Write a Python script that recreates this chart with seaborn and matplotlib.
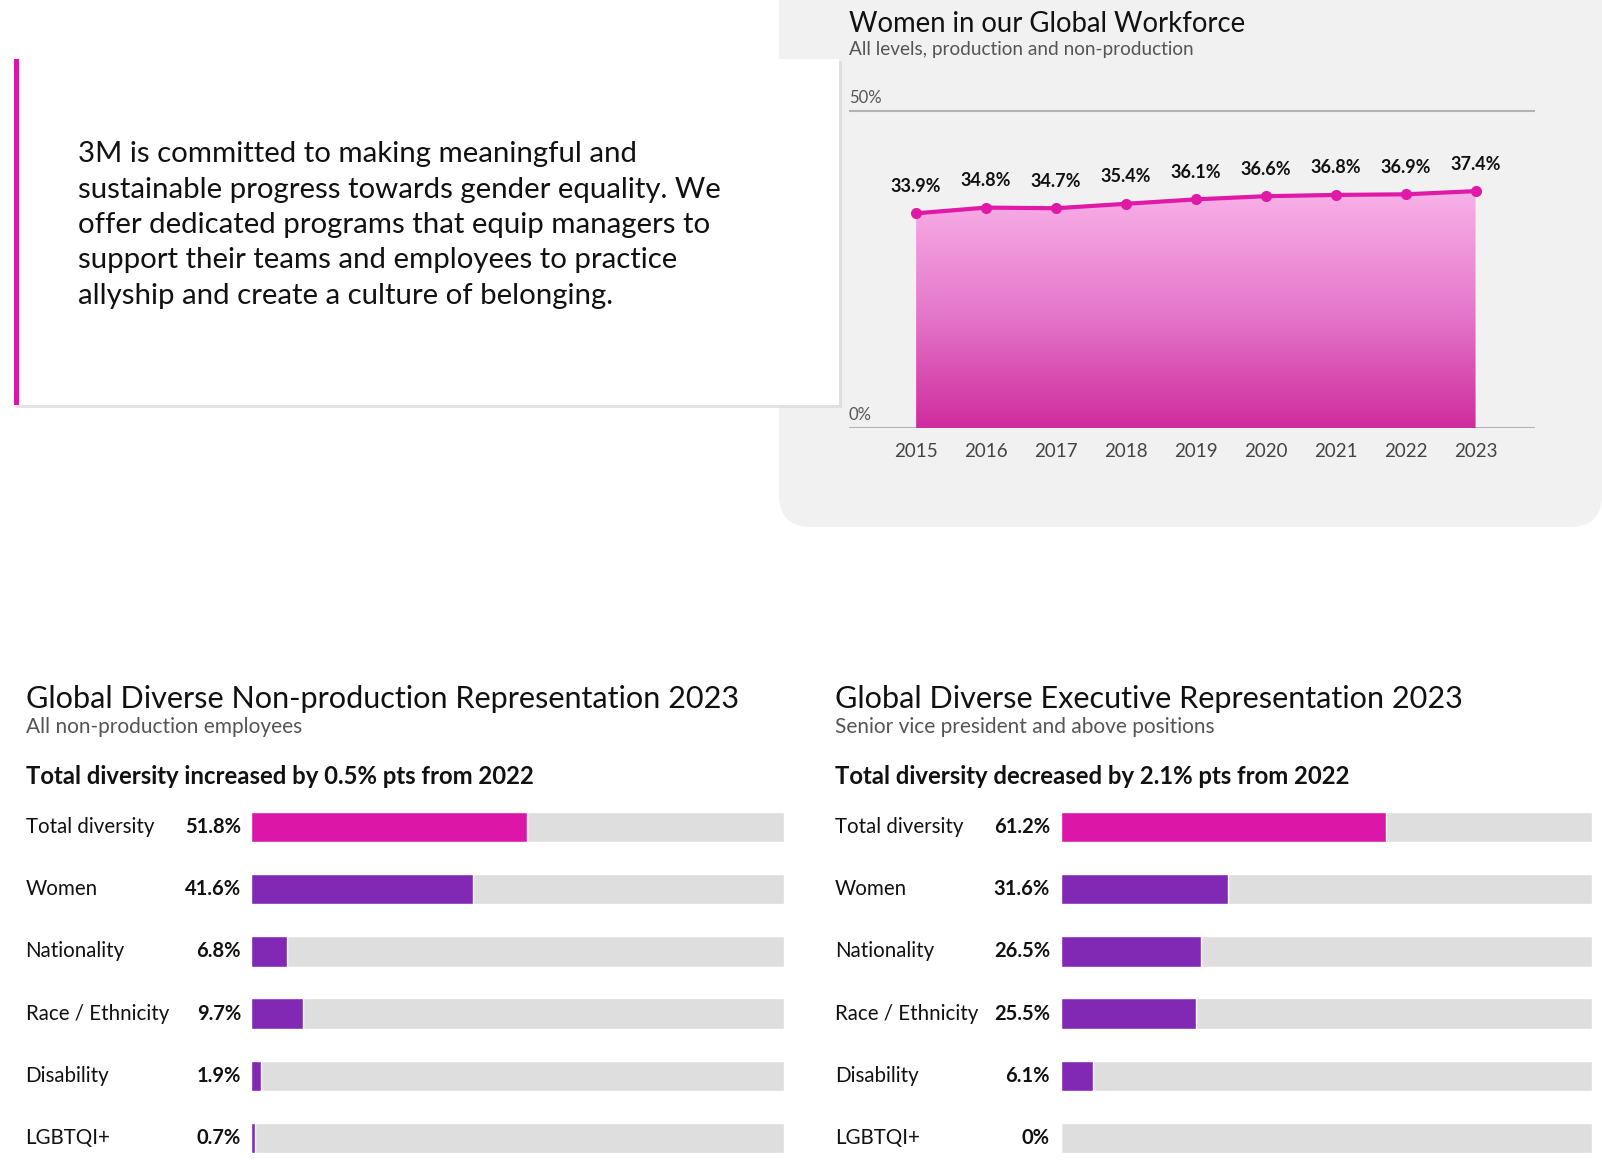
import numpy as np
import pandas as pd
import matplotlib
matplotlib.use("Agg")
import matplotlib.pyplot as plt
import matplotlib.transforms as mtransforms
import seaborn as sns
from matplotlib.patches import Rectangle, FancyBboxPatch
from matplotlib.colors import LinearSegmentedColormap

# data
years = [2015, 2016, 2017, 2018, 2019, 2020, 2021, 2022, 2023]
women_share = [33.9, 34.8, 34.7, 35.4, 36.1, 36.6, 36.8, 36.9, 37.4]

categories = ["Total diversity", "Women", "Nationality", "Race / Ethnicity", "Disability", "LGBTQI+"]
nonprod_values = [51.8, 41.6, 6.8, 9.7, 1.9, 0.7]
exec_values = [61.2, 31.6, 26.5, 25.5, 6.1, 0.0]

intro_text = ("3M is committed to making meaningful and\n"
              "sustainable progress towards gender equality. We\n"
              "offer dedicated programs that equip managers to\n"
              "support their teams and employees to practice\n"
              "allyship and create a culture of belonging.")

MAGENTA = "#dc17a8"
PURPLE = "#8129b4"
TRACK = "#dedede"

W, H = 1602, 1174
sns.set_theme(style="white")
plt.rcParams["font.family"] = ["Lato", "DejaVu Sans"]

fig = plt.figure(figsize=(W / 100, H / 100), dpi=100)
fig.patch.set_facecolor("white")


def box(x0, y0, x1, y1):
    # pixel box (top-left origin) -> figure fraction rect
    return [x0 / W, 1 - y1 / H, (x1 - x0) / W, (y1 - y0) / H]


# background layer in pixel coords
bg = fig.add_axes([0, 0, 1, 1], zorder=0)
bg.set_xlim(0, W)
bg.set_ylim(H, 0)
bg.axis("off")

# grey panel behind the line chart (rounded bottom corners)
bg.add_patch(FancyBboxPatch((779 + 32, -68), W - 779 - 64, 527 - 32 + 68,
                            boxstyle="round,pad=32", fc="#f1f1f1", ec="none"))

# text card with shadow and magenta rule
bg.add_patch(Rectangle((16, 61), 826, 347, fc="#d9d9d9", ec="none", alpha=0.7))
bg.add_patch(Rectangle((14, 59), 825, 346, fc="white", ec="none"))
bg.add_patch(Rectangle((14, 59), 4.5, 346, fc=MAGENTA, ec="none"))
bg.text(78, 225, intro_text, fontsize=21.2, va="center", ha="left",
        color="#111111", linespacing=1.45)

# line chart titles
bg.text(849, 24, "Women in our Global Workforce", fontsize=19.8,
        va="center", color="#111111")
bg.text(849, 50, "All levels, production and non-production", fontsize=13.7,
        va="center", color="#555555")

# ---- line / area chart ----
ax = fig.add_axes(box(849, 105, 1535, 428), zorder=2)
ax.patch.set_alpha(0)
df_line = pd.DataFrame({"year": years, "share": women_share})

cmap = LinearSegmentedColormap.from_list("pinkgrad", ["#cf2c9d", "#e57acb", "#f9b1e8"])
area = ax.fill_between(df_line["year"], df_line["share"], 0, color="none", lw=0)
grad = ax.imshow(np.linspace(0, 1, 256).reshape(-1, 1), cmap=cmap, aspect="auto",
                 origin="lower", extent=[min(years), max(years), 0, max(women_share)],
                 zorder=1)
grad.set_clip_path(area.get_paths()[0], transform=ax.transData)

sns.lineplot(data=df_line, x="year", y="share", ax=ax, color="#e01aa6", lw=3,
             marker="o", markersize=8, markeredgewidth=0, zorder=3)

for yr, v in zip(years, women_share):
    ax.annotate(f"{v}%", (yr, v), xytext=(0, 27), textcoords="offset pixels",
                ha="center", va="center", fontsize=13, fontweight="bold",
                color="#111111")

ax.set_xlim(2014.04, 2023.85)
ax.set_ylim(0, 51)
ax.axhline(50, color="#b3b3b3", lw=1.5, zorder=0)
ax.axhline(0, color="#b3b3b3", lw=1.5, zorder=0)
for s in ax.spines.values():
    s.set_visible(False)
ax.set_xticks(years)
ax.set_xticklabels([str(y) for y in years])
ax.set_yticks([])
ax.tick_params(axis="x", length=0, pad=11, labelsize=13.5, labelcolor="#444444")
ax.set_xlabel("")
ax.set_ylabel("")
ylab = mtransforms.blended_transform_factory(ax.transAxes, ax.transData)
ax.text(0, 50, "50%", transform=ylab + mtransforms.ScaledTranslation(0, 0.05, fig.dpi_scale_trans),
        fontsize=12, color="#555555", va="bottom", ha="left")
ax.text(0, 0, "0%", transform=ylab + mtransforms.ScaledTranslation(0, 0.05, fig.dpi_scale_trans),
        fontsize=12, color="#555555", va="bottom", ha="left")


# ---- horizontal bar panels ----
def bar_panel(values, title, subtitle, headline, x_text, x_bar0, x_bar1, x_val):
    bg.text(x_text, 699, title, fontsize=22.1, va="center", color="#111111")
    bg.text(x_text, 727, subtitle, fontsize=15, va="center", color="#555555")
    bg.text(x_text, 777, headline, fontsize=17.2, fontweight="bold", va="center",
            color="#111111")

    bax = fig.add_axes(box(x_bar0, 796, x_bar1, 1169), zorder=2)
    bax.patch.set_alpha(0)
    df = pd.DataFrame({"category": categories, "value": values,
                       "full": [100] * len(categories)})
    sns.barplot(data=df, y="category", x="full", color=TRACK, width=0.49,
                saturation=1, ax=bax, orient="h")
    sns.barplot(data=df, y="category", x="value", hue="category",
                palette=[MAGENTA] + [PURPLE] * (len(categories) - 1),
                width=0.49, saturation=1, ax=bax, orient="h", legend=False)
    bax.set_xlim(0, 100)
    bax.axis("off")

    span = x_bar1 - x_bar0
    tr = mtransforms.blended_transform_factory(bax.transAxes, bax.transData)
    for i, (cat, v) in enumerate(zip(categories, values)):
        bax.text((x_text - x_bar0) / span, i, cat, transform=tr, ha="left",
                 va="center", fontsize=14.8, color="#111111")
        bax.text((x_val - x_bar0) / span, i, f"{v:g}%", transform=tr, ha="right",
                 va="center", fontsize=14.5, fontweight="bold", color="#111111")


bar_panel(nonprod_values, "Global Diverse Non-production Representation 2023",
          "All non-production employees",
          "Total diversity increased by 0.5% pts from 2022",
          25.5, 251, 784, 241)
bar_panel(exec_values, "Global Diverse Executive Representation 2023",
          "Senior vice president and above positions",
          "Total diversity decreased by 2.1% pts from 2022",
          835, 1060.5, 1592, 1050)

fig.savefig("out.png", dpi=100, facecolor="white")
